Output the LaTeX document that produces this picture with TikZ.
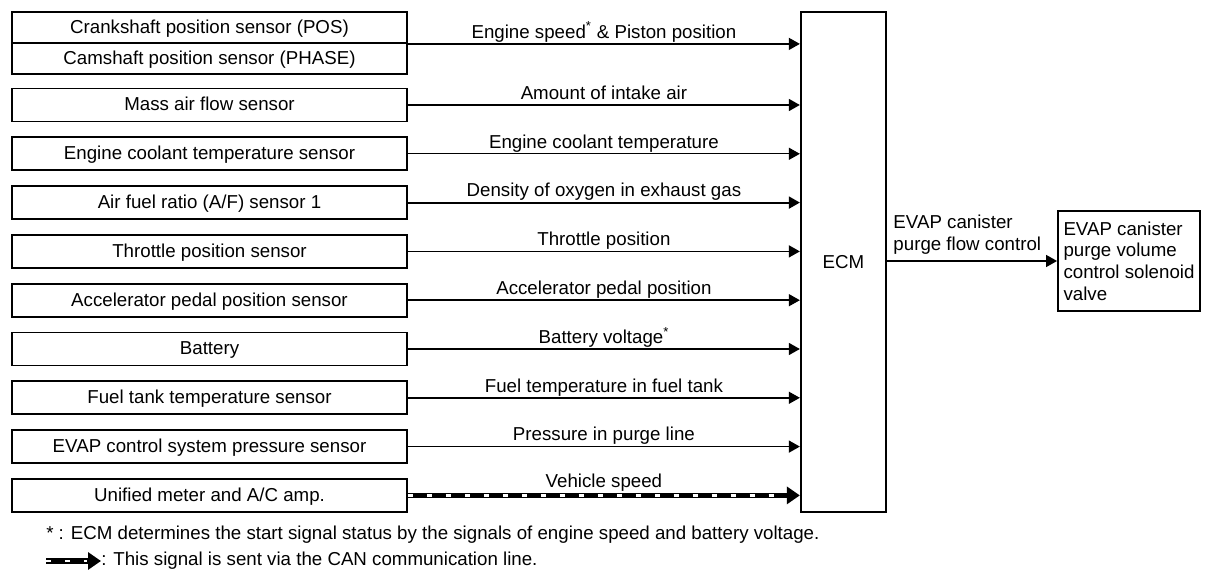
\documentclass[tikz,border=0pt]{standalone}
\usepackage{fontspec}
\setmainfont{Liberation Sans}
\usetikzlibrary{arrows.meta}
\tikzset{
    sensor/.style = {
        draw,
        shape=rectangle,
        minimum width=9.875cm,
        minimum height=0.825cm,
        text height=0.85em,
        text depth=0pt,
        inner sep=0pt,
        line width=1.3pt
    },
    ecmbox/.style = {
        draw,
        shape=rectangle,
        minimum width=2.125cm,
        minimum height=12.5cm,
        line width=1.6pt
    },
    valvebox/.style = {
        draw,
        shape=rectangle,
        align=left,
        minimum width=3.55cm,
        minimum height=2.5cm,
        line width=1.3pt
    },
    signal/.style = {
        draw,
        line width=1pt,
        ->
    },
    siglabel/.style = {
        midway,
        above,
        inner sep=1pt,
        text depth=0.25em
    },
    can/.style = {
        draw,
        line width=3.9pt,
        -{Triangle[length=9.2pt,width=12pt]},
        postaction={draw=white, line width=1.9pt, dash pattern=on 3.8pt off 9.7pt, shorten >=10pt, -}
    },
    note/.style = {
        anchor=west,
        inner sep=0pt
    },
    >={Triangle[length=7.8pt,width=8.5pt]},
}
\begin{document}
\begin{tikzpicture}[x=0.025cm, y=-0.025cm, font=\fontsize{13.3}{15.4}\selectfont]
                \useasboundingbox (0,0) rectangle (1216,582);

                \node[sensor, minimum height=0.775cm] (crank) at (209.5,27.5) {Crankshaft position sensor (POS)};
                \node[sensor, minimum height=0.775cm] (cam) at (209.5,58.5) {Camshaft position sensor (PHASE)};
                \node[sensor] (maf) at (209.5,105) {Mass air flow sensor};
                \node[sensor] (ect) at (209.5,153.8) {Engine coolant temperature sensor};
                \node[sensor] (afs) at (209.5,202.6) {Air fuel ratio (A/F) sensor 1};
                \node[sensor] (tps) at (209.5,251.4) {Throttle position sensor};
                \node[sensor] (apps) at (209.5,300.2) {Accelerator pedal position sensor};
                \node[sensor] (batt) at (209.5,349) {Battery};
                \node[sensor] (ftts) at (209.5,397.8) {Fuel tank temperature sensor};
                \node[sensor] (evaps) at (209.5,446.6) {EVAP control system pressure sensor};
                \node[sensor] (meter) at (209.5,495.4) {Unified meter and A/C amp.};
                \node[ecmbox] (ecm) at (843.5,262) {ECM};
                \node[valvebox] (valve) at (1129,261) {EVAP canister\\purge volume\\control solenoid\\valve};

                \path[signal] (crank.south east) -- (crank.south east -| ecm.west)
                node[siglabel] {Engine speed\textsuperscript{*} \& Piston position};
                \path[signal] (maf) -- (maf -| ecm.west) node[siglabel] {Amount of intake air};
                \path[signal] (ect) -- (ect -| ecm.west) node[siglabel] {Engine coolant temperature};
                \path[signal, line width=1.3pt] (afs) -- (afs -| ecm.west) node[siglabel] {Density of oxygen in exhaust gas};
                \path[signal] (tps) -- (tps -| ecm.west) node[siglabel] {Throttle position};
                \path[signal] (apps) -- (apps -| ecm.west) node[siglabel] {Accelerator pedal position};
                \path[signal] (batt) -- (batt -| ecm.west) node[siglabel] {Battery voltage\textsuperscript{*}};
                \path[signal] (ftts) -- (ftts -| ecm.west) node[siglabel] {Fuel temperature in fuel tank};
                \path[signal] (evaps) -- (evaps -| ecm.west) node[siglabel] {Pressure in purge line};
                \path[can] (meter) -- (meter -| ecm.west) node[siglabel] {Vehicle speed};

                \path[signal] (ecm.east |- valve.west) -- (valve.west)
                node[pos=0, anchor=south west, align=left, inner xsep=4pt, inner ysep=4.5pt] {EVAP canister\\purge flow control};

                \node[note] (startnote) at (46,535) {* : ECM determines the start signal status by the signals of engine speed and battery voltage.};
                \coordinate (cantail) at (46,561);
                \node[note] (cannote) at (101,561) {: This signal is sent via the CAN communication line.};
                \path[can] (cantail) -- (cannote.west);
            \end{tikzpicture}
\end{document}
